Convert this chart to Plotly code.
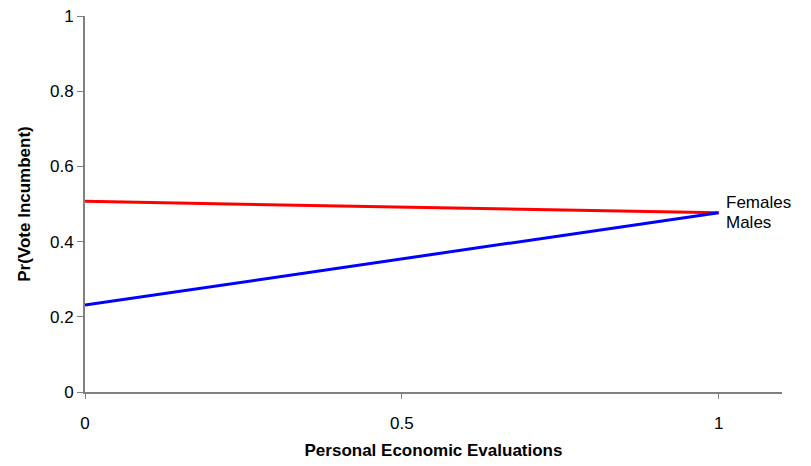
import plotly.graph_objects as go

x_vals = [0, 1]
females = [0.507, 0.477]
males = [0.231, 0.477]
series_names = ["Females", "Males"]

FONT = "Liberation Sans, Arial"

fig = go.Figure()
fig.add_trace(go.Scatter(x=x_vals, y=females, mode="lines", line=dict(color="#ff0000", width=3), name="Females"))
fig.add_trace(go.Scatter(x=x_vals, y=males, mode="lines", line=dict(color="#0000ff", width=3), name="Males"))

fig.add_annotation(x=x_vals[-1], y=females[-1], xref="x", yref="y", text=series_names[0],
                   showarrow=False, xanchor="left", yanchor="middle", xshift=5, yshift=10,
                   font=dict(family=FONT, size=17, color="#000"))
fig.add_annotation(x=x_vals[-1], y=males[-1], xref="x", yref="y", text=series_names[1],
                   showarrow=False, xanchor="left", yanchor="middle", xshift=5, yshift=-10,
                   font=dict(family=FONT, size=17, color="#000"))

axis_common = dict(showgrid=False, zeroline=False, showline=True, linecolor="#808080", linewidth=2,
                   ticks="outside", tickcolor="#808080", tickwidth=1, automargin=False,
                   tickfont=dict(family=FONT, size=17, color="#000"))

fig.update_xaxes(range=[0, 1.1], tick0=0, dtick=0.5, ticklen=5, ticklabelstandoff=10, **axis_common,
                 title=dict(text="<b>Personal Economic Evaluations</b>", standoff=12,
                            font=dict(family=FONT, size=17, color="#000")))
fig.update_yaxes(range=[0, 1], tick0=0, dtick=0.2, ticklen=6, **axis_common,
                 title=dict(text="<b>Pr(Vote Incumbent)</b>", standoff=15,
                            font=dict(family=FONT, size=17, color="#000")))

fig.update_layout(width=811, height=466, margin=dict(l=85, r=29, t=16, b=74),
                  plot_bgcolor="white", paper_bgcolor="white", showlegend=False)

fig.write_html("out.html", config={"displayModeBar": False},
               post_script="document.body.style.margin='0';")
